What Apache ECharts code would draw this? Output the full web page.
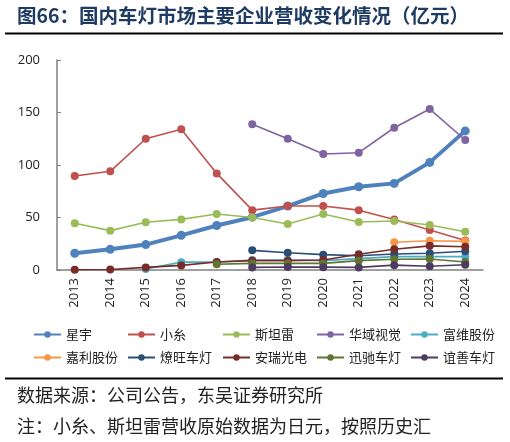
<!DOCTYPE html>
<html><head><meta charset="utf-8">
<script src="https://cdn.jsdelivr.net/npm/echarts@6/dist/echarts.min.js"></script>
<style>html,body{margin:0;padding:0;background:#fff}#c{width:510px;height:442px}</style>
</head><body><div id="c"></div>
<script>
const years = ['2013','2014','2015','2016','2017','2018','2019','2020','2021','2022','2023','2024'];
const yTicks = [0, 50, 100, 150, 200];
const xingyu   = [15.9, 19.7, 24.2, 33.0, 42.4, 50.3, 60.9, 72.9, 79.3, 82.5, 102.5, 132.5];
const koito    = [89.5, 94.0, 125.0, 134.0, 92.0, 57.0, 61.0, 61.0, 57.0, 48.0, 38.0, 28.0];
const stanley  = [44.5, 37.5, 45.5, 48.2, 53.3, 50.0, 43.8, 53.3, 45.7, 46.7, 42.9, 36.5];
const hasco    = [null, null, null, null, null, 138.7, 125.0, 110.5, 111.7, 135.5, 153.3, 123.8];
const fuwei    = [null, null, 1.0, 7.5, 7.5, 9.5, 9.5, 8.9, 10.8, 12.7, 12.7, 12.7];
const jiali    = [null, null, null, null, null, null, null, null, null, 26.5, 27.8, 27.3];
const liaowang = [null, null, null, null, null, 18.7, 16.5, 14.6, 13.5, 15.2, 15.9, 17.8];
const anrui    = [0.2, 0.5, 2.5, 4.4, 7.6, 8.9, 8.9, 9.5, 15.0, 19.8, 23.0, 22.2];
const xunchi   = [null, null, null, null, 5.5, 6.3, 6.3, 6.3, 8.9, 10.2, 10.5, 7.6];
const yishan   = [null, null, null, null, null, 2.5, 2.9, 2.7, 2.5, 4.6, 3.6, 5.0];

const names  = ['星宇','小糸','斯坦雷','华域视觉','富维股份','嘉利股份','燎旺车灯','安瑞光电','迅驰车灯','谊善车灯'];
const colors = ['#4F81BD','#C0504D','#9BBB59','#8064A2','#4BACC6','#F79646','#2C4D75','#772C2A','#5F7530','#4D3B62'];
const values = [xingyu, koito, stanley, hasco, fuwei, jiali, liaowang, anrui, xunchi, yishan];

const series = names.map((n, i) => ({
  name: n, type: 'line', data: values[i],
  symbol: 'circle', symbolSize: i === 0 ? 9 : 8,
  connectNulls: false,
  lineStyle: { color: colors[i], width: i === 0 ? 4 : 1.6 },
  itemStyle: { color: colors[i] },
  emphasis: { disabled: true },
  z: 2 + i
}));

const colX = [28, 122, 217, 311, 405];
const rowY = [323, 346];
const legends = names.map((n, i) => ({
  data: [n], left: colX[i % 5], top: rowY[Math.floor(i / 5)],
  itemWidth: 27, itemHeight: 8, itemGap: 0,
  textStyle: { fontSize: 13, color: '#222', fontFamily: 'Noto Sans CJK SC' },
  selectedMode: false
}));

const chart = echarts.init(document.getElementById('c'), null, { renderer: 'canvas' });
chart.setOption({
  animation: false,
  backgroundColor: '#fff',
  grid: { left: 57, right: 27, top: 60, bottom: 172, containLabel: false },
  legend: legends,
  xAxis: {
    type: 'category', data: years, boundaryGap: true,
    axisLine: { lineStyle: { color: '#808080', width: 1.5 } },
    axisTick: { inside: true, length: 4, alignWithLabel: false, lineStyle: { color: '#808080' } },
    axisLabel: { rotate: 90, fontSize: 13, color: '#222', margin: 8, fontFamily: 'Open Sans', interval: 0 },
    splitLine: { show: false }
  },
  yAxis: {
    type: 'value', min: yTicks[0], max: yTicks[yTicks.length - 1], interval: 50,
    axisLine: { show: true, lineStyle: { color: '#808080', width: 1.5 } },
    axisTick: { show: true, inside: true, length: 4, lineStyle: { color: '#808080' } },
    axisLabel: { fontSize: 13, color: '#222', margin: 17, fontFamily: 'Open Sans' },
    splitLine: { show: false }
  },
  graphic: [
    { type: 'text', left: 17, top: 6, style: { text: '图66：国内车灯市场主要企业营收变化情况（亿元）', fontSize: 19.5, fontWeight: 'bold', fill: '#1F3B63', fontFamily: 'Noto Sans CJK SC' } },
    { type: 'line', shape: { x1: 5, y1: 33.5, x2: 503, y2: 33.5 }, style: { stroke: '#000', lineWidth: 2 } },
    { type: 'line', shape: { x1: 5, y1: 378.5, x2: 503, y2: 378.5 }, style: { stroke: '#000', lineWidth: 2 } },
    { type: 'text', left: 17, top: 386, style: { text: '数据来源：公司公告，东吴证券研究所', fontSize: 18, fill: '#222', fontFamily: 'Noto Sans CJK SC' } },
    { type: 'text', left: 17, top: 417, style: { text: '注：小糸、斯坦雷营收原始数据为日元，按照历史汇', fontSize: 18, fill: '#222', fontFamily: 'Noto Sans CJK SC' } }
  ],
  series: series
});
</script></body></html>
